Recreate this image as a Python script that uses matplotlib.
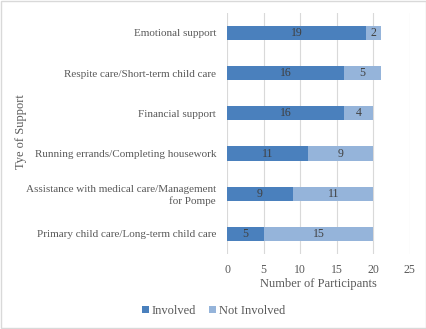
import matplotlib.pyplot as plt
import numpy as np

plt.rcParams['font.family'] = ['Liberation Serif', 'DejaVu Serif']

categorias = [
    "Primary child care/Long-term child care",
    "Assistance with medical care/Management\nfor Pompe",
    "Running errands/Completing housework",
    "Financial support",
    "Respite care/Short-term child care",
    "Emotional support",
]
involucrados = [5, 9, 11, 16, 16, 19]
no_involucrados = [15, 11, 9, 4, 5, 2]

color_inv = "#4a80bd"
color_no = "#95b4da"
gris = "#595959"

fig = plt.figure(figsize=(4.27, 3.29), dpi=100)
ax = fig.add_axes([0.532, 0.228, 0.428, 0.733])

y = np.arange(len(categorias))
b1 = ax.barh(y, involucrados, height=0.35, color=color_inv, label="Involved", zorder=3)
b2 = ax.barh(y, no_involucrados, left=involucrados, height=0.35, color=color_no,
             label="Not Involved", zorder=3)

# valores dentro de cada segmento
for barras in (b1, b2):
    for barra in barras:
        ancho = barra.get_width()
        ax.text(barra.get_x() + ancho / 2, barra.get_y() + barra.get_height() / 2,
                f"{ancho:.0f}", ha="center", va="center", fontsize=8.5, color="#404040", zorder=4)

ax.set_xlim(0, 25)
ax.set_ylim(-0.5, len(categorias) - 0.5)
ax.set_xticks([0, 5, 10, 15, 20, 25])
ax.set_yticks(y)
ax.set_yticklabels(categorias)
ax.tick_params(axis="both", length=0, labelsize=8.5, colors=gris)
ax.tick_params(axis="y", labelsize=8, pad=8)
ax.tick_params(axis="x", pad=7)
ax.grid(axis="x", color="#d9d9d9", linewidth=0.8, zorder=0)
for lado in ax.spines.values():
    lado.set_visible(False)

ax.set_xlabel("Number of Participants", fontsize=9, color=gris, labelpad=2)
fig.text(0.05, 0.6, "Tye of Support", rotation=90, ha="center", va="center",
         fontsize=9, color=gris)

fig.legend(handles=[b1, b2], loc="center", bbox_to_anchor=(0.5, 0.055), ncol=2,
           frameon=False, fontsize=9, handlelength=0.6, handleheight=0.6,
           handletextpad=0.2, columnspacing=1.0, labelcolor=gris)

borde = plt.Rectangle((0.002, 0.002), 0.996, 0.996, transform=fig.transFigure,
                      fill=False, edgecolor="#d9d9d9", linewidth=1)
fig.patches.append(borde)

plt.savefig("out.png", dpi=100)
plt.close()
